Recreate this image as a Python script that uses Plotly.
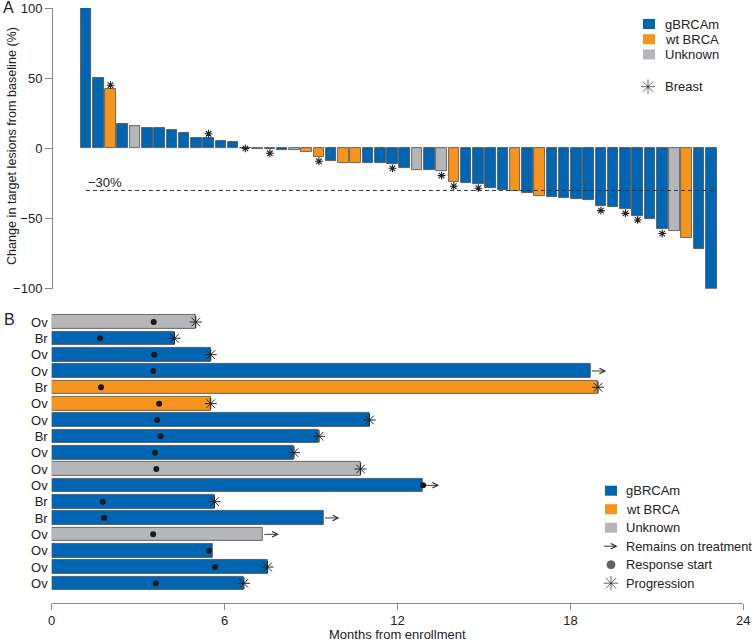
import plotly.graph_objects as go

# ---------------- Panel A data (waterfall) ----------------
change_a = [100, 50, 42, 17.1, 15.7, 14.5, 14.5, 13.1, 11.2, 7.4, 7.4, 5.5, 4.5, 0,
            -0.3, -0.5, -1.2, -1.4, -2.4, -6.2, -9.0, -10.2, -10.5, -10.7, -10.7,
            -11.2, -14.3, -15.7, -15.7, -16.4, -24, -25, -25.4, -28.3, -29.7, -30.6,
            -31.8, -33.7, -34.7, -35.2, -36.1, -37.1, -41.4, -42.1, -43.3, -48, -50.1,
            -57.7, -59.2, -63.7, -72, -100]
status_a = ["g", "g", "w", "g", "u", "g", "g", "g", "g", "g", "g", "g", "g", "g",
            "u", "g", "g", "u", "w", "w", "g", "w", "w", "g", "g",
            "g", "g", "u", "g", "u", "w", "g", "g", "g", "g", "w",
            "g", "w", "g", "g", "g", "g", "g", "g", "g", "g", "g",
            "g", "u", "w", "g", "g"]
breast_a = [3, 11, 14, 16, 20, 26, 30, 31, 33, 43, 45, 46, 48, 52]  # patient numbers with breast cancer

# ---------------- Panel B data (swimmer) ----------------
tumour_b = ["Ov", "Br", "Ov", "Ov", "Br", "Ov", "Ov", "Br", "Ov", "Ov", "Ov", "Br", "Br", "Ov", "Ov", "Ov", "Ov"]
status_b = ["u", "g", "g", "g", "w", "w", "g", "g", "g", "u", "g", "g", "g", "u", "g", "g", "g"]
months_b = [5.0, 4.26, 5.52, 18.69, 18.96, 5.52, 11.03, 9.28, 8.41, 10.72, 12.89, 5.65, 9.43, 7.33, 5.58, 7.49, 6.67]
response_b = [3.54, 1.68, 3.56, 3.52, 1.71, 3.73, 3.66, 3.78, 3.59, 3.63, 12.89, 1.77, 1.82, 3.52, 5.46, 5.67, 3.61]
outcome_b = ["prog", "prog", "prog", "on", "prog", "prog", "prog", "prog", "prog", "prog", "on",
             "prog", "on", "on", "none", "prog", "prog"]
x_ticks_b = [0, 6, 12, 18, 24]
y_ticks_a = [-100, -50, 0, 50, 100]

status_names = {"g": "gBRCAm", "w": "wt BRCA", "u": "Unknown"}
colors = {"g": "#0066B3", "w": "#F7941D", "u": "#B5B6B9"}
TXT = "#222222"
AX = "#8a8a8a"
EDGE = "#4a4a4a"
FONT = "Liberation Sans, Arial, sans-serif"
W, H = 755, 641


def px(x):
    return x / W


def py(y):
    return 1 - y / H


fig = go.Figure()

# Panel A bars
idx_a = list(range(1, len(change_a) + 1))
fig.add_trace(go.Bar(
    x=idx_a, y=change_a, width=0.86,
    marker=dict(color=[colors[s] for s in status_a], line=dict(color=EDGE, width=0.8)),
    xaxis="x", yaxis="y", hoverinfo="skip"))

# Breast asterisks in panel A
bx, by = [], []
for p in breast_a:
    v = change_a[p - 1]
    off = 3 if v > 0 else (-3 if v < 0 else 0)
    bx.append(p)
    by.append(v + off)
fig.add_trace(go.Scatter(
    x=bx, y=by, mode="markers", cliponaxis=False,
    marker=dict(symbol="asterisk-open", size=6.5, color="#222", line=dict(width=1.1, color="#222")),
    xaxis="x", yaxis="y", hoverinfo="skip"))

# Panel B bars
rows_b = list(range(1, len(months_b) + 1))
fig.add_trace(go.Bar(
    x=months_b, y=rows_b, orientation="h", width=0.84,
    marker=dict(color=[colors[s] for s in status_b], line=dict(color=EDGE, width=0.8)),
    xaxis="x2", yaxis="y2", hoverinfo="skip"))

# Response start dots
fig.add_trace(go.Scatter(
    x=response_b, y=rows_b, mode="markers", cliponaxis=False,
    marker=dict(symbol="circle", size=6, color="#1a1a1a"),
    xaxis="x2", yaxis="y2", hoverinfo="skip"))

# Progression asterisks
px_b = [m for m, o in zip(months_b, outcome_b) if o == "prog"]
py_b = [r for r, o in zip(rows_b, outcome_b) if o == "prog"]
fig.add_trace(go.Scatter(
    x=px_b, y=py_b, mode="markers", cliponaxis=False,
    marker=dict(symbol="asterisk-open", size=10, color="#222", line=dict(width=1, color="#222")),
    xaxis="x2", yaxis="y2", hoverinfo="skip"))

annotations = []
# Remains on treatment arrows
for m, r, o in zip(months_b, rows_b, outcome_b):
    if o == "on":
        annotations.append(dict(
            x=m + 0.55, y=r, ax=m, ay=r, xref="x2", yref="y2", axref="x2", ayref="y2",
            showarrow=True, arrowhead=5, arrowsize=1.2, arrowwidth=0.9, arrowcolor="#222", text=""))

# ---------------- legends ----------------
leg_rect = []
for i, s in enumerate(["g", "w", "u"]):
    # panel A legend
    yc = 24 + i * 15.2
    leg_rect.append(dict(type="rect", xref="paper", yref="paper",
                         x0=px(643), x1=px(655), y0=py(yc + 5), y1=py(yc - 5),
                         fillcolor=colors[s], line=dict(width=0)))
    annotations.append(dict(x=px(663), y=py(yc), xref="paper", yref="paper", xanchor="left",
                            yanchor="middle", showarrow=False, text=status_names[s],
                            font=dict(size=13, color=TXT)))
    # panel B legend
    yc2 = 490.7 + i * 18.5
    leg_rect.append(dict(type="rect", xref="paper", yref="paper",
                         x0=px(605), x1=px(617), y0=py(yc2 + 5), y1=py(yc2 - 5),
                         fillcolor=colors[s], line=dict(width=0)))
    annotations.append(dict(x=px(624), y=py(yc2), xref="paper", yref="paper", xanchor="left",
                            yanchor="middle", showarrow=False, text=status_names[s],
                            font=dict(size=13, color=TXT)))

leg_b_items = ["Remains on treatment", "Response start", "Progression"]
for i, t in enumerate(leg_b_items):
    yc2 = 490.7 + (i + 3) * 18.5
    annotations.append(dict(x=px(624), y=py(yc2), xref="paper", yref="paper", xanchor="left",
                            yanchor="middle", showarrow=False, text=t,
                            font=dict(size=12.8, color=TXT)))
annotations.append(dict(x=px(663), y=py(86.7), xref="paper", yref="paper", xanchor="left",
                        yanchor="middle", showarrow=False, text="Breast",
                        font=dict(size=13, color=TXT)))
# legend arrow
annotations.append(dict(x=px(617.5), y=py(546.2), ax=-15, ay=0,
                        xref="paper", yref="paper", axref="pixel", ayref="pixel",
                        showarrow=True, arrowhead=5, arrowsize=1.2, arrowwidth=0.9,
                        arrowcolor="#222", text=""))

fig.add_trace(go.Scatter(
    x=[648, 611, 611], y=[86.7, 564.7, 583.2], mode="markers", cliponaxis=False,
    marker=dict(symbol=["asterisk-open", "circle", "asterisk-open"], size=[12, 8, 12],
                color="#222", line=dict(width=1, color="#222")),
    xaxis="x3", yaxis="y3", hoverinfo="skip"))

# Panel labels and titles
annotations += [
    dict(x=px(1), y=py(8), xref="paper", yref="paper", xanchor="left", yanchor="middle",
         showarrow=False, text="A", font=dict(size=16, color=TXT)),
    dict(x=px(2), y=py(319), xref="paper", yref="paper", xanchor="left", yanchor="middle",
         showarrow=False, text="B", font=dict(size=16, color=TXT)),
    dict(x=px(12), y=py(146), xref="paper", yref="paper", xanchor="center", yanchor="middle",
         showarrow=False, text="Change in target lesions from baseline (%)", textangle=-90,
         font=dict(size=12.6, color=TXT)),
    dict(x=px(397.5), y=py(634), xref="paper", yref="paper", xanchor="center", yanchor="middle",
         showarrow=False, text="Months from enrollment", font=dict(size=13, color=TXT)),
    dict(x=px(86), y=py(182), xref="paper", yref="paper", xanchor="left", yanchor="middle",
         showarrow=False, text="\u221230%", font=dict(size=13, color=TXT)),
]

shapes = leg_rect + [
    dict(type="line", xref="x", yref="y", x0=1.0, x1=52.4, y0=-30, y1=-30, layer="above",
         line=dict(color="#333", width=1, dash="4px,3px")),
]

fig.update_layout(
    width=W, height=H, margin=dict(l=0, r=0, t=0, b=0, autoexpand=False),
    paper_bgcolor="white", plot_bgcolor="rgba(0,0,0,0)", showlegend=False,
    font=dict(family=FONT, size=13, color=TXT),
    bargap=0,
    xaxis=dict(domain=[px(53), px(717.4)], range=[-1.69, 52.5], visible=False, anchor="y",
               automargin=False),
    yaxis=dict(domain=[py(288.7), py(8)], range=[-100, 100], tickvals=y_ticks_a,
               ticks="outside", ticklen=7, tickcolor=AX, showline=True, linecolor=AX,
               linewidth=1, showgrid=False, zeroline=False, anchor="x", automargin=False,
               tickfont=dict(size=13, color=TXT)),
    xaxis2=dict(domain=[px(51.7), px(743.3)], range=[0, 24], tickvals=x_ticks_b,
                anchor="free", position=py(602.7), ticks="outside", ticklen=6, tickcolor=AX,
                showline=True, linecolor=AX, linewidth=1, showgrid=False, zeroline=False,
                automargin=False, tickfont=dict(size=13, color=TXT)),
    yaxis2=dict(domain=[py(591.5), py(313.8)], range=[17.5, 0.5], tickvals=rows_b,
                ticktext=tumour_b, ticks="", showline=False, showgrid=False, zeroline=False,
                anchor="x2", automargin=False, ticklabelstandoff=3,
                tickfont=dict(size=13, color=TXT)),
    xaxis3=dict(domain=[0, 1], range=[0, W], visible=False, anchor="y3", automargin=False),
    yaxis3=dict(domain=[0, 1], range=[H, 0], visible=False, anchor="x3", automargin=False),
    annotations=annotations, shapes=shapes,
)

fig.write_html("out.html", config={"displayModeBar": False},
               post_script="document.body.style.margin='0px';document.body.style.padding='0px';")
